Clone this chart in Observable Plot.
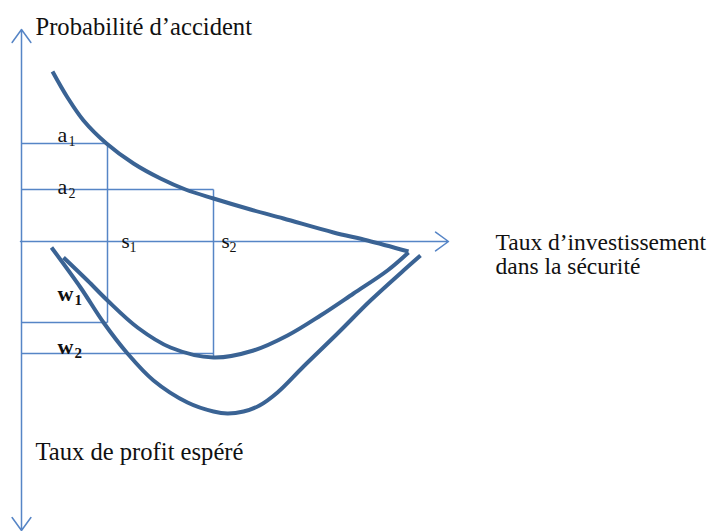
<!DOCTYPE html>
<html><head><meta charset="utf-8">
<script src="https://cdn.jsdelivr.net/npm/d3@7"></script>
<script src="https://cdn.jsdelivr.net/npm/@observablehq/plot@0.6"></script>
<style>html,body{margin:0;padding:0;background:#fff}#chart svg{display:block}#chart svg text{font-family:"Liberation Serif","Times New Roman",serif !important}</style>
</head><body><div id="chart"></div>
<script>
// Units: x = taux d'investissement dans la sécurité, y = probabilité (haut) / profit (bas)
const probabilityCurve = [[31,170],[46,144],[62,121],[85,98],[112,78],[139,63],[164,52],[192,43],[229,32],[262,23],[312,9],[346,1],[387,-10]];
const profitCurve1 = [[42,-16],[66,-39],[86,-59],[116,-86],[149,-106],[192,-116],[232,-109],[266,-94],[299,-74],[332,-52],[366,-29],[387,-11]];
const profitCurve2 = [[30,-6],[59,-46],[82,-81],[106,-112],[132,-139],[166,-161],[192,-170],[206,-172],[222,-170],[238,-164],[256,-151],[282,-125],[316,-92],[349,-59],[382,-29],[399,-14]];

const sValues = [86, 192];   // s1, s2
const aValues = [98, 52];    // a1, a2
const wValues = [-81, -112]; // w1, w2

const xAxisEnd = 427, yAxisTop = 212, yAxisBottom = -289;

const indexLabels = ["1", "2"];

// guide segments built from the values
const guides = [];
sValues.forEach((s, i) => {
  guides.push({x1: 0, y1: aValues[i], x2: s, y2: aValues[i]});
  guides.push({x1: 0, y1: wValues[i], x2: s, y2: wValues[i]});
  guides.push({x1: s, y1: aValues[i], x2: s, y2: (i === 0 ? wValues[i] : wValues[i] - 3)});
});

const axes = [
  {x1: -1, y1: 0, x2: xAxisEnd, y2: 0},
  {x1: 0, y1: 0, x2: 0, y2: yAxisTop},
  {x1: 0, y1: 0, x2: 0, y2: yAxisBottom}
];

const titles = [
  {x: 14, y: 207, text: "Probabilité d’accident"},
  {x: 14, y: -218, text: "Taux de profit espéré"}
];
const xTitleLines = [
  {x: 474, y: -8, text: "Taux d’investissement"},
  {x: 474, y: -32, text: "dans la sécurité"}
];

const aLabels = aValues.map((a, i) => ({x: 36, y: a + 2 - i * 6, text: "a", sub: indexLabels[i]}));
const sLabels = sValues.map((s, i) => ({x: s + 14 - i * 6, y: -6, text: "s", sub: indexLabels[i]}));
const wLabels = wValues.map((w, i) => ({x: 36, y: w + 22 - i * 22, text: "w", sub: indexLabels[i]}));

const serif = "'Liberation Serif', 'Times New Roman', serif";
const thin = "#5685c6", thick = "#3a6394", ink = "#111";

const chart = Plot.plot({
  width: 715, height: 531,
  margin: 0,
  x: {domain: [-21, 694], axis: null},
  y: {domain: [-290, 241], axis: null},
  marks: [
    Plot.link(guides, {x1: "x1", y1: "y1", x2: "x2", y2: "y2", stroke: thin, strokeWidth: 1.5}),
    Plot.arrow(axes, {x1: "x1", y1: "y1", x2: "x2", y2: "y2", stroke: thin, strokeWidth: 1.5, headLength: 16, headAngle: 72}),
    Plot.line(probabilityCurve, {x: d => d[0], y: d => d[1], curve: "catmull-rom", stroke: thick, strokeWidth: 4, strokeLinecap: "butt"}),
    Plot.line(profitCurve1, {x: d => d[0], y: d => d[1], curve: "catmull-rom", stroke: thick, strokeWidth: 4, strokeLinecap: "butt"}),
    Plot.line(profitCurve2, {x: d => d[0], y: d => d[1], curve: "catmull-rom", stroke: thick, strokeWidth: 4, strokeLinecap: "butt"}),
    Plot.text(titles, {x: "x", y: "y", text: "text", textAnchor: "start", lineAnchor: "bottom", fontSize: 24.6, fontFamily: serif, fill: ink}),
    Plot.text(xTitleLines, {x: "x", y: "y", text: "text", textAnchor: "start", lineAnchor: "bottom", fontSize: 23.5, fontFamily: serif, fill: ink}),
    Plot.text(aLabels, {x: "x", y: "y", text: "text", textAnchor: "start", lineAnchor: "bottom", fontSize: 22, fontFamily: serif, fill: ink}),
    Plot.text(aLabels, {x: "x", y: "y", text: "sub", dx: 11, dy: 4, textAnchor: "start", lineAnchor: "bottom", fontSize: 14, fontFamily: serif, fill: ink}),
    Plot.text(sLabels, {x: "x", y: "y", text: "text", textAnchor: "start", lineAnchor: "bottom", fontSize: 21, fontFamily: serif, fill: ink}),
    Plot.text(sLabels, {x: "x", y: "y", text: "sub", dx: 8, dy: 4, textAnchor: "start", lineAnchor: "bottom", fontSize: 14, fontFamily: serif, fill: ink}),
    Plot.text(wLabels, {x: "x", y: "y", text: "text", textAnchor: "start", lineAnchor: "bottom", fontSize: 22, fontWeight: "bold", fontFamily: serif, fill: ink}),
    Plot.text(wLabels, {x: "x", y: "y", text: "sub", dx: 17, dy: 4, textAnchor: "start", lineAnchor: "bottom", fontSize: 15, fontWeight: "bold", fontFamily: serif, fill: ink})
  ]
});
document.getElementById("chart").appendChild(chart);
</script>
</body></html>
